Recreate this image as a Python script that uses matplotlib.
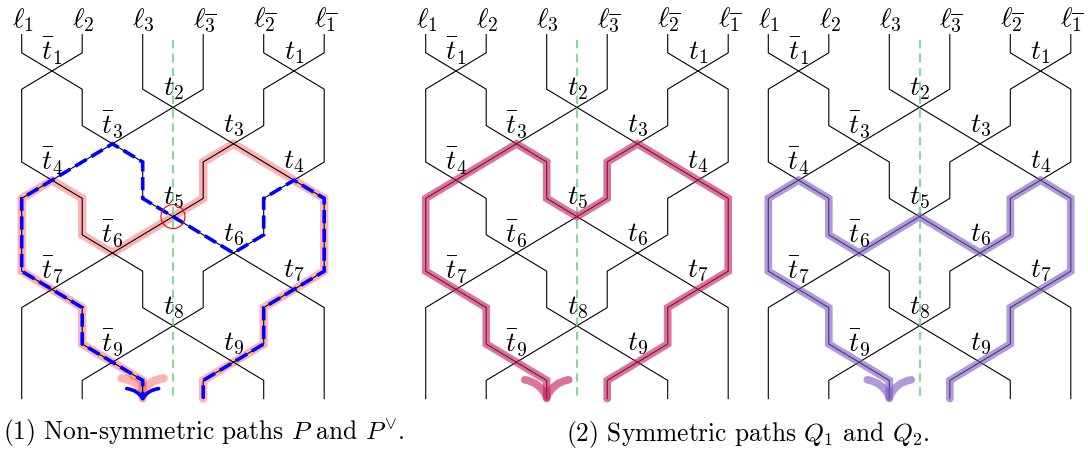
import matplotlib
matplotlib.use("Agg")
import matplotlib.pyplot as plt
from matplotlib.path import Path
from matplotlib.patches import PathPatch, Circle

plt.rcParams["mathtext.fontset"] = "cm"
plt.rcParams["lines.scale_dashes"] = False

# ---- data -------------------------------------------------------------
TOP_LABELS = [r"$\ell_1$", r"$\ell_2$", r"$\ell_3$",
              r"$\ell_{\overline{3}}$", r"$\ell_{\overline{2}}$", r"$\ell_{\overline{1}}$"]

# each row of the wiring diagram: (left position of crossing, crossing name)
ROWS = [
    [(0, r"$\bar{t}_1$"), (4, r"$t_1$")],
    [(2, r"$t_2$")],
    [(1, r"$\bar{t}_3$"), (3, r"$t_3$")],
    [(0, r"$\bar{t}_4$"), (4, r"$t_4$")],
    [(2, r"$t_5$")],
    [(1, r"$\bar{t}_6$"), (3, r"$t_6$")],
    [(0, r"$\bar{t}_7$"), (4, r"$t_7$")],
    [(2, r"$t_8$")],
    [(1, r"$\bar{t}_9$"), (3, r"$t_9$")],
]

# paths as (position, level) nodes; level k = row boundary, k+0.5 = crossing
PATH_P = [(3, 9.5), (3, 9), (4, 8), (4, 7), (5, 6), (5, 4), (3.5, 2.5), (3, 3), (3, 4),
          (1.5, 5.5), (1, 5), (1, 4), (0.5, 3.5), (0, 4), (0, 6), (1, 7), (1, 8), (2, 9), (2, 9.5)]
PATH_PV = [(3, 9.5), (3, 9), (4, 8), (4, 7), (5, 6), (5, 4), (4.5, 3.5), (4, 4), (4, 5),
           (3.5, 5.5), (2, 4), (2, 3), (1.5, 2.5), (0, 4), (0, 6), (1, 7), (1, 8), (2, 9), (2, 9.5)]
PATH_Q1 = [(3, 9.5), (3, 9), (4, 8), (4, 7), (5, 6), (5, 4), (3.5, 2.5), (3, 3), (3, 4),
           (2.5, 4.5), (2, 4), (2, 3), (1.5, 2.5), (0, 4), (0, 6), (1, 7), (1, 8), (2, 9), (2, 9.5)]
PATH_Q2 = [(3, 9.5), (3, 9), (4, 8), (4, 7), (5, 6), (5, 4), (4.5, 3.5), (4, 4), (4, 5),
           (3.5, 5.5), (2.5, 4.5), (1.5, 5.5), (1, 5), (1, 4), (0.5, 3.5), (0, 4), (0, 6),
           (1, 7), (1, 8), (2, 9), (2, 9.5)]

CAPTIONS = [r"(1) Non-symmetric paths $P$ and $P^{\vee}$.",
            r"(2) Symmetric paths $Q_1$ and $Q_2$."]

# ---- layout -----------------------------------------------------------
PANEL_X0 = [21.7, 425.7, 768.3]
DX = 60.5           # column spacing (px)
Y0, DY = 52.8, 36.4  # level 0 and level step (px)
FS = 20

fig = plt.figure(figsize=(10.88, 4.51), dpi=100)
ax = fig.add_axes([0, 0, 1, 1])
ax.set_xlim(0, 1088); ax.set_ylim(451, 0); ax.axis("off")


def X(x0, p): return x0 + DX * p
def Y(lv): return Y0 + DY * lv


def wire_polylines():
    # follow each wire through the crossings
    pos = list(range(6)); lines = [[(p, -0.5), (p, 0)] for p in range(6)]
    for k, row in enumerate(ROWS):
        left = {c for c, _ in row}
        newpos = pos[:]
        for w in range(6):
            p = pos[w]
            if p in left: newpos[w] = p + 1
            elif p - 1 in left: newpos[w] = p - 1
            lines[w].append((newpos[w], k + 1))
        pos = newpos
    for w in range(6): lines[w].append((pos[w], 9.5))
    return lines


def draw_path(x0, nodes, **kw):
    ax.plot([X(x0, p) for p, _ in nodes], [Y(l) for _, l in nodes], **kw)


def arrow_tip(x, y, w, h, color, lw, alpha, z):
    verts = [(x - w, y - h), (x - 0.3 * w, y - 0.85 * h), (x, y),
             (x + w, y - h), (x + 0.3 * w, y - 0.85 * h), (x, y)]
    codes = [Path.MOVETO, Path.CURVE3, Path.CURVE3] * 2
    ax.add_patch(PathPatch(Path(verts, codes), fill=False, edgecolor=color, lw=lw,
                           alpha=alpha, capstyle="round", zorder=z))


wires = wire_polylines()
for i, x0 in enumerate(PANEL_X0):
    for p, lab in enumerate(TOP_LABELS):
        ax.text(X(x0, p) + 1, 20, lab, fontsize=FS, ha="center", va="center")
    for wl in wires:
        draw_path(x0, wl, color="black", lw=0.8, zorder=2)
    for k, row in enumerate(ROWS):
        for c, name in row:
            ax.text(X(x0, c + 0.5), Y(k) - 1, name, fontsize=FS, ha="center", va="center", zorder=6)
    xc = X(x0, 2.5)
    ax.plot([xc, xc], [40, Y(9.5)], color="#5ccf7a", lw=1.1, dashes=(6, 4), zorder=3)

# panel 1: P (light red) and P-check (blue dashed)
x0 = PANEL_X0[0]
draw_path(x0, PATH_P, color="red", alpha=0.3, lw=6, solid_joinstyle="miter",
          solid_capstyle="round", zorder=1)
arrow_tip(X(x0, 2), Y(9.3), 21, 13, "red", 6, 0.3, 1)
draw_path(x0, PATH_PV, color="blue", lw=2.6, dashes=(9.5, 4), dash_capstyle="butt",
          dash_joinstyle="miter", zorder=4)
arrow_tip(X(x0, 2), Y(9.5), 16, 10, "blue", 2.6, 1, 4)
ax.add_patch(Circle((X(x0, 2.5), Y(4.5)), 12, fill=False, edgecolor="red", lw=0.8, zorder=5))

# panel 2: Q1 ; panel 3: Q2
for x0, nodes, col in [(PANEL_X0[1], PATH_Q1, "#c2185b"), (PANEL_X0[2], PATH_Q2, "#7e57c2")]:
    draw_path(x0, nodes, color=col, alpha=0.6, lw=5.5, solid_joinstyle="miter",
              solid_capstyle="round", zorder=3.5)
    arrow_tip(X(x0, 2), Y(9.45), 22, 17, col, 5.5, 0.6, 3.5)

ax.text(3, 434, CAPTIONS[0], fontsize=18.3, family="cmr10", ha="left", va="center")
ax.text(566, 434, CAPTIONS[1], fontsize=18.3, family="cmr10", ha="left", va="center")

fig.savefig("out.png", dpi=100)
